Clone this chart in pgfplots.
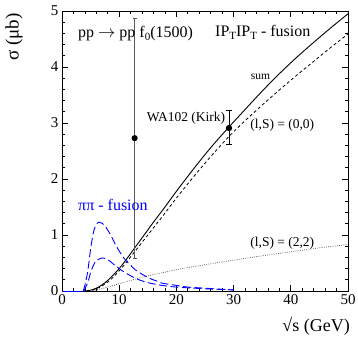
\documentclass[border=0pt]{standalone}
\usepackage{fontspec}
\setmainfont{Liberation Serif}
\usepackage{pgfplots}
\pgfplotsset{compat=1.18}
\newcommand{\sub}[1]{\raisebox{-0.4ex}{\fontsize{11}{11}\selectfont #1}}
\begin{document}
\begin{tikzpicture}
\path[use as bounding box] (-62pt,-46pt) rectangle (296pt,291pt);
\begin{axis}[
  at={(0pt,0pt)}, anchor=south west,
  width=286pt, height=280pt, scale only axis,
  xmin=0, xmax=50, ymin=0, ymax=5,
  xtick={0,10,...,50}, ytick={0,1,...,5},
  minor tick num=4,
  tick align=inside,
  major tick length=6pt, minor tick length=3pt,
  tick style={black, line width=0.7pt},
  axis line style={line width=0.8pt},
  ticklabel style={font=\fontsize{15}{15}\selectfont},
  /pgf/number format/assume math mode=true,
  clip=false,
]
% sum
\addplot[black, line width=0.9pt, smooth] coordinates {
(4,0) (5,0.015) (6,0.05) (7,0.11) (8,0.19) (9,0.29) (10,0.40) (11,0.53) (12,0.67) (13,0.81) (14,0.95) (15,1.09) (16,1.23) (18,1.50) (20,1.78) (23,2.18) (26,2.56) (29.2,2.93) (32,3.24) (35,3.57) (38,3.88) (41,4.17) (44,4.44) (47,4.70) (50,4.95)};
% (0,0)
\addplot[black, line width=0.8pt, dash pattern=on 3pt off 2.5pt, smooth] coordinates {
(4.3,0) (5,0.01) (6,0.04) (7,0.09) (8,0.16) (9,0.25) (10,0.36) (11,0.48) (12,0.61) (13,0.74) (14,0.87) (15,1.00) (16,1.13) (18,1.39) (20,1.66) (23,2.04) (26,2.40) (29.2,2.76) (32,3.04) (35,3.32) (38,3.59) (41,3.85) (44,4.10) (47,4.35) (50,4.59)};
% (2,2)
\addplot[black!70, line width=0.7pt, dash pattern=on 0.8pt off 1.4pt, smooth] coordinates {
(5,0) (6,0.02) (8,0.07) (10,0.13) (12,0.19) (15,0.27) (20,0.38) (25,0.47) (30,0.55) (35,0.63) (40,0.70) (45,0.77) (50,0.83)};
% pi pi baseline
\addplot[blue, line width=1pt] coordinates {(0,0) (3.7,0)};
% pi pi large
\addplot[blue, line width=0.9pt, dash pattern=on 8pt off 3.5pt, smooth] coordinates {
(3.7,0) (4.0,0.1) (4.5,0.35) (5.0,0.75) (5.5,1.05) (6.0,1.19) (6.5,1.23) (7.0,1.21) (7.6,1.15) (8.5,1.0) (9.3,0.84) (10.2,0.68) (11.1,0.55) (12,0.46) (12.8,0.38) (14,0.30) (15.2,0.23) (16.5,0.18) (17.5,0.14) (20,0.10) (22,0.07) (25,0.05) (28,0.03) (30,0.02)};
% pi pi small
\addplot[blue, line width=0.9pt, dash pattern=on 8pt off 3.5pt, smooth] coordinates {
(3.8,0) (4.5,0.15) (5.0,0.33) (5.5,0.46) (6.0,0.54) (7.0,0.59) (8.0,0.56) (9,0.48) (10,0.40) (11,0.33) (13,0.22) (15,0.15) (17.5,0.10) (20,0.07) (25,0.04) (30,0.02)};
% data points
\addplot[black!65, line width=0.9pt, mark=*, mark size=2.6pt, mark options={black}, only marks,
  error bars/.cd, y dir=both, y explicit, error bar style={black!65, line width=0.9pt},
  error mark options={rotate=90, mark size=2pt, black!65}]
  coordinates {(12.7,2.73) += (0,2.15) -= (0,2.14)};
\addplot[black, line width=1pt, mark=*, mark size=2.6pt, only marks,
  error bars/.cd, y dir=both, y explicit, error bar style={black, line width=1pt},
  error mark options={rotate=90, mark size=3pt}]
  coordinates {(29.2,2.91) += (0,0.32) -= (0,0.29)};
% labels
\node[anchor=base west, inner sep=0pt, font=\fontsize{16}{16}\selectfont] at (axis cs:2.8,4.52) {pp $\rightarrow$ pp f\sub{0}(1500)};
\node[anchor=base west, inner sep=0pt, font=\fontsize{16}{16}\selectfont] at (axis cs:26.75,4.54) {IP\sub{T}IP\sub{T} - fusion};
\node[anchor=base west, inner sep=0pt, font=\fontsize{11.5}{11.5}\selectfont] at (axis cs:33.0,3.77) {sum};
\node[anchor=base west, inner sep=0pt, font=\fontsize{13.5}{13.5}\selectfont] at (axis cs:14.8,3.02) {WA102 (Kirk)};
\node[anchor=base west, inner sep=0pt, font=\fontsize{13.5}{13.5}\selectfont] at (axis cs:32.9,2.91) {(l,S) = (0,0)};
\node[anchor=base west, inner sep=0pt, font=\fontsize{13.5}{13.5}\selectfont] at (axis cs:32.9,0.80) {(l,S) = (2,2)};
\node[anchor=base west, inner sep=0pt, font=\fontsize{16}{16}\selectfont, text=blue] at (axis cs:2.8,1.43) {ππ - fusion};
\end{axis}
\node[rotate=90, inner sep=0pt, font=\fontsize{19}{19}\selectfont] at (-48pt,254pt) {σ (μb)};
\node[anchor=base east, inner sep=0pt, font=\fontsize{18}{18}\selectfont] at (288pt,-40pt) {√s (GeV)};
\end{tikzpicture}
\end{document}
